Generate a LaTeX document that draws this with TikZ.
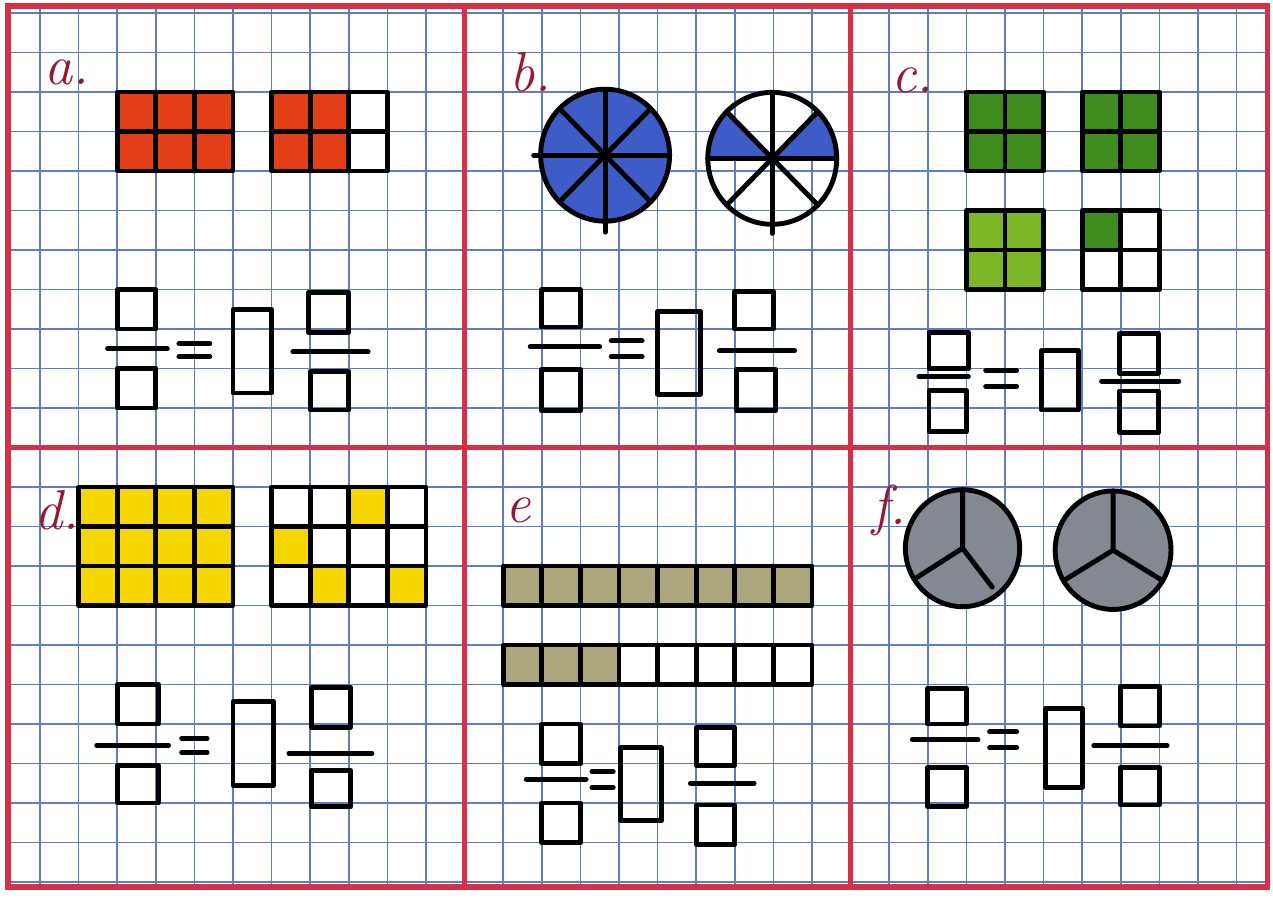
\documentclass[tikz,border=0pt]{standalone}
\usepackage{fontspec}
\usepackage{tikz}
\definecolor{gridblue}{RGB}{95,125,195}
\definecolor{pagered}{RGB}{212,48,72}
\definecolor{tagred}{RGB}{150,25,50}
\definecolor{brick}{RGB}{226,62,24}
\definecolor{royal}{RGB}{62,92,200}
\definecolor{leaf}{RGB}{62,140,30}
\definecolor{lime}{RGB}{125,182,40}
\definecolor{lemon}{RGB}{245,214,0}
\definecolor{khaki}{RGB}{172,166,124}
\definecolor{slate}{RGB}{132,137,145}

\begin{document}
\begin{tikzpicture}[x=0.386cm,y=-0.395cm,
  gridline/.style={gridblue,line width=0.45pt},
  border/.style={pagered,line width=1.6pt},
  ink/.style={black,line width=1.4pt,line join=round,line cap=round},
  tag/.style={text=tagred,font=\itshape\fontsize{16}{18}\selectfont,inner sep=0pt}]
\useasboundingbox (-1.036,-0.329) rectangle (31.943,22.481);
\fill[white] (-1.036,-0.329) rectangle (31.943,22.481);
\foreach \i in {0,...,31} \draw[gridline] (\i,-0.2) -- (\i,22.1);
\foreach \j in {0,...,22} \draw[gridline] (-0.83,\j) -- (31.8,\j);
\draw[border] (-0.83,-0.18) rectangle (31.8,22.12);
\draw[border] (11,-0.18) -- (11,22.12) (21,-0.18) -- (21,22.12) (-0.83,11) -- (31.8,11);

% a
\node[tag] (la) at (0.7,1.5) {a.};
\fill[brick] (2,2) rectangle (5,4) (6,2) rectangle (8,4);
\draw[ink] (2,2) rectangle (5,4) (3,2) -- (3,4) (4,2) -- (4,4) (2,3) -- (5,3);
\draw[ink] (6,2) rectangle (9,4) (7,2) -- (7,4) (8,2) -- (8,4) (6,3) -- (9,3);
\draw[ink] (2,7) rectangle (3,8) (1.75,8.5) -- (3.3,8.5) (2,9) rectangle (3,10);
\draw[ink] (3.6,8.37) -- (4.4,8.37) (3.6,8.7) -- (4.4,8.7);
\draw[ink] (5,7.5) rectangle (6,9.62);
\draw[ink] (6.95,7.08) rectangle (8,8.08) (6.55,8.58) -- (8.5,8.58) (7,9.08) rectangle (8,10.05);

% b
\node[tag] (lb) at (12.7,1.5) {b.};
\coordinate (b1) at (14.64,3.6);
\coordinate (b2) at (18.97,3.68);
\fill[royal] (b1) circle[radius=1.67];
\fill[royal] (b2) -- ++(0:1.67) arc[start angle=0,end angle=-45,radius=1.67] -- cycle;
\fill[royal] (b2) -- ++(180:1.67) arc[start angle=180,end angle=225,radius=1.67] -- cycle;
\draw[ink] (b1) circle[radius=1.67] (b2) circle[radius=1.67];
\foreach \a in {0,45,...,315} \draw[ink] (b1) -- ++(\a:1.67) (b2) -- ++(\a:1.67);
\draw[ink] (b1) -- ++(180:1.85) (b1) -- ++(90:1.95) (b2) -- ++(90:1.9);
\draw[ink] (13,7) rectangle (14,7.95) (12.7,8.45) -- (14.5,8.45) (13,9.02) rectangle (14,10.07);
\draw[ink] (14.8,8.3) -- (15.6,8.3) (14.8,8.7) -- (15.6,8.7);
\draw[ink] (16,7.55) rectangle (17.1,9.65);
\draw[ink] (18,7.05) rectangle (19,8) (17.6,8.55) -- (19.55,8.55) (18.05,9.02) rectangle (19.05,10.07);

% c
\node[tag] (lc) at (22.6,1.7) {c.};
\fill[leaf] (24,2) rectangle (26,4) (27,2) rectangle (29,4) (27,5) rectangle (28,6);
\fill[lime] (24,5) rectangle (26,7);
\foreach \x/\y in {24/2,27/2,24/5,27/5}
  \draw[ink] (\x,\y) rectangle ++(2,2) (\x+1,\y) -- ++(0,2) (\x,\y+1) -- ++(2,0);
\draw[ink] (23.03,8.08) rectangle (24.05,9) (22.77,9.2) -- (24.05,9.2) (23.03,9.55) rectangle (24,10.6);
\draw[ink] (24.5,9.05) -- (25.3,9.05) (24.5,9.45) -- (25.3,9.45);
\draw[ink] (25.95,8.55) rectangle (26.9,10.05);
\draw[ink] (27.97,8.12) rectangle (28.97,9.12) (27.5,9.32) -- (29.5,9.32) (27.97,9.57) rectangle (28.97,10.62);

% d
\node[tag] (ld) at (0.45,12.6) {d.};
\fill[lemon] (1,12) rectangle (5,15) (8,12) rectangle (9,13) (6,13) rectangle (7,14) (7,14) rectangle (8,15) (9,14) rectangle (10,15);
\foreach \x in {1,6}
  \draw[ink] (\x,12) rectangle ++(4,3) (\x+1,12) -- ++(0,3) (\x+2,12) -- ++(0,3) (\x+3,12) -- ++(0,3) (\x,13) -- ++(4,0) (\x,14) -- ++(4,0);
\draw[ink] (2,17) rectangle (3.07,18) (1.47,18.54) -- (3.33,18.54) (2,19.05) rectangle (3.07,20);
\draw[ink] (3.67,18.36) -- (4.33,18.36) (3.67,18.72) -- (4.33,18.72);
\draw[ink] (5,17.43) rectangle (6.05,19.55);
\draw[ink] (7.03,17.08) rectangle (8.05,18.08) (6.45,18.74) -- (8.6,18.74) (7.03,19.18) rectangle (8.05,20.1);

% e
\node[tag] (le) at (12.4,12.6) {e};
\fill[khaki] (12,14) rectangle (20,15) (12,16) rectangle (15,17);
\foreach \y in {14,16} {
  \draw[ink] (12,\y) rectangle (20,\y+1);
  \foreach \x in {13,...,19} \draw[ink] (\x,\y) -- (\x,\y+1);
}
\draw[ink] (13,18) rectangle (14,19) (12.6,19.4) -- (14.15,19.4) (13,20) rectangle (14,21);
\draw[ink] (14.3,19.2) -- (14.85,19.2) (14.3,19.6) -- (14.85,19.6);
\draw[ink] (15.05,18.6) rectangle (16.1,20.45);
\draw[ink] (17,18.1) rectangle (18,19.05) (16.85,19.5) -- (18.5,19.5) (17,20.05) rectangle (18,21.05);

% f
\node[tag] (lf) at (22.0,12.6) {f.};
\coordinate (f1) at (23.9,13.55);
\coordinate (f2) at (27.8,13.6);
\fill[slate] (f1) circle[radius=1.48] (f2) circle[radius=1.5];
\draw[ink] (f1) circle[radius=1.48] (f2) circle[radius=1.5];
\draw[ink] (f1) -- ++(-90:1.48) (f1) -- ++(148:1.46) (f1) -- ++(52:1.25);
\draw[ink] (f2) -- ++(-90:1.5) (f2) -- ++(149:1.5) (f2) -- ++(31:1.5);
\draw[ink] (23,17.1) rectangle (24,18) (22.6,18.4) -- (24.3,18.4) (23,19.1) rectangle (24,20.1);
\draw[ink] (24.6,18.2) -- (25.3,18.2) (24.6,18.6) -- (25.3,18.6);
\draw[ink] (26.05,17.6) rectangle (27,19.6);
\draw[ink] (28,17.05) rectangle (29,18.05) (27.3,18.55) -- (29.2,18.55) (28,19.1) rectangle (29,20.05);
\end{tikzpicture}
\end{document}
